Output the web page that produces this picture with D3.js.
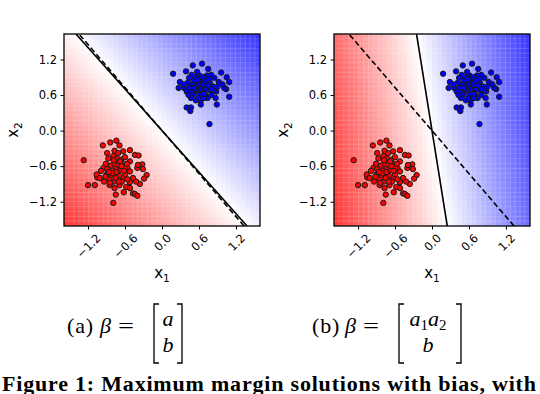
<!DOCTYPE html>
<html>
<head>
<meta charset="utf-8">
<script src="https://d3js.org/d3.v7.min.js"></script>
<style>
  body { margin: 0; background: #fff; }
  svg { display: block; }
  .tick text { font-family: "DejaVu Sans", sans-serif; font-size: 11.5px; fill: #000; }
  .axlabel { font-family: "DejaVu Sans", sans-serif; font-size: 15px; fill: #000; }
  .cap { font-family: "Liberation Serif", "Times New Roman", serif; font-size: 22px; fill: #000; }
</style>
</head>
<body>
<div id="chart"></div>
<script>
// class -1 (red) points, x1 and x2
var redX1 = [-1.27,-1.20,-1.09,-1.05,-1.06,-0.96,-0.84,-0.74,-0.69,-0.63,
             -0.52,-0.44,-0.38,-0.32,-0.25,-0.36,-0.47,-0.62,-0.75,-0.77,
             -0.78,-0.86,-0.90,-0.95,-0.91,-0.87,-0.79,-0.73,-0.66,-0.60,
             -0.52,-0.56,-0.52,-0.47,-0.42,-0.52,-0.63,-0.70,-0.68,-0.74,
             -0.80,-0.83,-0.77,-0.71,-0.63,-0.60,-0.85,-0.69,-0.58,-0.99,
             -1.01,-0.82,-0.75,-0.65,-0.89,-0.77,-0.89,-0.71,-0.40,-0.52,
             -0.31,-0.60,-0.57,-0.79,-0.44,-0.40,-0.29,-0.39,
             -0.80,-0.74,-0.86,-0.70,-0.66,-0.78,-0.92,-0.62,-0.84,-0.68,-0.94,-0.56];
var redX2 = [-0.50,-0.92,-0.92,-0.79,-0.74,-0.25,-0.20,-0.17,-0.25,-0.35,
             -0.33,-0.41,-0.42,-0.57,-0.75,-0.90,-1.06,-1.04,-1.08,-0.97,
             -0.86,-0.81,-0.74,-0.63,-0.56,-0.47,-0.43,-0.47,-0.49,-0.45,
             -0.52,-0.63,-0.69,-0.80,-0.86,-0.87,-0.80,-0.76,-0.67,-0.63,
             -0.68,-0.59,-0.56,-0.58,-0.57,-0.74,-0.92,-0.92,-0.95,-0.68,
             -0.80,-0.75,-0.80,-0.86,-0.65,-0.34,-0.38,-0.38,-0.63,-0.97,
             -0.65,-0.63,-0.56,-1.22,-1.07,-1.10,-0.81,-0.58,
             -0.72,-0.70,-0.70,-0.86,-0.60,-0.50,-0.78,-0.68,-0.88,-0.52,-0.86,-0.82];
// class +1 (blue) points
var blueX1 = [0.18,0.29,0.27,0.36,0.39,0.50,0.65,0.75,0.96,1.05,
              1.09,1.04,1.09,0.89,0.77,0.40,0.47,0.46,0.63,0.63,
              0.55,0.74,0.80,0.88,0.90,0.92,0.85,0.80,0.73,0.69,
              0.61,0.57,0.48,0.44,0.42,0.35,0.49,0.45,0.52,0.50,
              0.59,0.63,0.68,0.70,0.74,0.78,0.83,0.84,0.76,0.70,
              0.61,0.56,0.52,0.59,0.65,0.72,0.77,0.63,0.55,0.44,
              0.40,0.59,0.68,0.57,0.47,0.43,0.87,1.01,0.98,
              0.60,0.66,0.70,0.62,0.55,0.72,0.66,0.58,0.75,0.68,0.52,0.80];
var blueX2 = [0.96,0.82,0.72,0.72,1.00,1.10,1.13,1.04,0.98,0.90,
              0.82,0.70,0.57,0.44,0.11,0.39,0.39,0.33,0.44,0.51,
              0.51,0.55,0.60,0.66,0.74,0.82,0.89,0.94,0.93,0.89,
              0.93,0.99,0.94,0.89,0.81,0.78,0.77,0.66,0.64,0.60,
              0.69,0.71,0.66,0.75,0.82,0.80,0.74,0.68,0.69,0.60,
              0.60,0.78,0.85,0.83,0.82,0.87,0.87,0.89,0.90,0.72,
              0.66,0.55,0.55,0.73,0.55,0.60,0.55,0.72,0.78,
              0.80,0.78,0.84,0.70,0.70,0.70,0.90,0.86,0.76,0.62,0.72,0.70];

var tickValues = [-1.2, -0.6, 0.0, 0.6, 1.2];

// boundaries w1*x1 + w2*x2 + b = 0, stored as [w1, w2, b]
var solidA = [1.167, 1, 0];
var solidB = [6.5, 1, 0];
var dashedBoundary = [1.21, 1, 0];

var captionTags = ["(a)", "(b)"];

var width = 540, height = 394;
var margin = {left: 64, top: 34};
var plotW = 196, plotH = 192, panelGap = 270;
var nCells = 40;

var svg = d3.select("#chart").append("svg")
    .attr("width", width)
    .attr("height", height);

var x = d3.scaleLinear().domain([-1.59, 1.59]).range([0, plotW]);
var y = d3.scaleLinear().domain([-1.61, 1.63]).range([plotH, 0]);

var points = redX1.map(function (v, i) { return {x1: v, x2: redX2[i], c: "#ff0000"}; })
    .concat(blueX1.map(function (v, i) { return {x1: v, x2: blueX2[i], c: "#0000ff"}; }));

function shade(t) {
    return t < 0 ? d3.interpolateRgb("#ffffff", "#ff0000")(-t)
                 : d3.interpolateRgb("#ffffff", "#0000ff")(t);
}

function drawPanel(i, solid) {
    var g = svg.append("g")
        .attr("transform", "translate(" + (margin.left + i * panelGap) + "," + margin.top + ")");

    g.append("clipPath").attr("id", "clip" + i)
        .append("rect").attr("width", plotW).attr("height", plotH);

    var plot = g.append("g").attr("clip-path", "url(#clip" + i + ")");

    // decision function mesh
    var xd = x.domain(), yd = y.domain();
    var dx = (xd[1] - xd[0]) / nCells, dy = (yd[1] - yd[0]) / nCells;
    var cells = [];
    for (var r = 0; r < nCells; r++) {
        for (var c = 0; c < nCells; c++) {
            var cx = xd[0] + (c + 0.5) * dx, cy = yd[0] + (r + 0.5) * dy;
            cells.push({x0: xd[0] + c * dx, y1: yd[0] + (r + 1) * dy,
                        f: solid[0] * cx + solid[1] * cy + solid[2]});
        }
    }
    var maxAbs = d3.max(cells, function (d) { return Math.abs(d.f); });

    plot.selectAll(".cell")
        .data(cells)
        .enter().append("rect")
        .attr("class", "cell")
        .attr("x", function (d) { return x(d.x0); })
        .attr("y", function (d) { return y(d.y1); })
        .attr("width", x(xd[0] + dx) - x(xd[0]) + 0.4)
        .attr("height", y(yd[0]) - y(yd[0] + dy) + 0.4)
        .attr("fill", function (d) { return shade(d.f / maxAbs); })
        .attr("fill-opacity", 0.78);

    // faint mesh edges
    var edges = d3.range(nCells + 1);
    plot.selectAll(".vline").data(edges).enter().append("line")
        .attr("x1", function (k) { return x(xd[0] + k * dx); })
        .attr("x2", function (k) { return x(xd[0] + k * dx); })
        .attr("y1", 0).attr("y2", plotH)
        .attr("stroke", "#fff").attr("stroke-opacity", 0.22).attr("stroke-width", 0.9);
    plot.selectAll(".hline").data(edges).enter().append("line")
        .attr("y1", function (k) { return y(yd[0] + k * dy); })
        .attr("y2", function (k) { return y(yd[0] + k * dy); })
        .attr("x1", 0).attr("x2", plotW)
        .attr("stroke", "#fff").attr("stroke-opacity", 0.22).attr("stroke-width", 0.9);

    // boundaries
    function ends(w) {
        return yd.map(function (v) { return [x(-(w[1] * v + w[2]) / w[0]), y(v)]; });
    }
    plot.append("path")
        .attr("d", d3.line()(ends(solid)))
        .attr("stroke", "#000").attr("stroke-width", 1.6).attr("fill", "none");
    plot.append("path")
        .attr("d", d3.line()(ends(dashedBoundary)))
        .attr("stroke", "#000").attr("stroke-width", 1.6).attr("fill", "none")
        .attr("stroke-dasharray", "5.5,3");

    // data points
    plot.selectAll(".pt")
        .data(points)
        .enter().append("circle")
        .attr("class", "pt")
        .attr("cx", function (d) { return x(d.x1); })
        .attr("cy", function (d) { return y(d.x2); })
        .attr("r", 2.7)
        .attr("fill", function (d) { return d.c; })
        .attr("stroke", "#1a1a1a")
        .attr("stroke-width", 1);

    // frame
    g.append("rect")
        .attr("width", plotW).attr("height", plotH)
        .attr("fill", "none").attr("stroke", "#000").attr("stroke-width", 1.3);

    // axes
    var gx = g.append("g")
        .attr("transform", "translate(0," + plotH + ")")
        .call(d3.axisBottom(x).tickValues(tickValues).tickFormat(d3.format(".1f"))
              .tickSize(3.5).tickSizeOuter(0));
    var gy = g.append("g")
        .call(d3.axisLeft(y).tickValues(tickValues).tickFormat(d3.format(".1f"))
              .tickSize(3.5).tickPadding(3.5).tickSizeOuter(0));
    gx.select(".domain").remove();
    gy.select(".domain").remove();

    gx.selectAll(".tick text").each(function () {
        var w = this.getComputedTextLength();
        var h = 11.5 * 0.73;
        var ex = 0.707 * (w + h) / 2, ey = 7 + 0.707 * h;
        d3.select(this)
            .attr("x", ex).attr("y", ey).attr("dy", null)
            .attr("text-anchor", "end")
            .attr("transform", "rotate(-45," + ex + "," + ey + ")");
    });

    // axis labels
    var xl = g.append("text").attr("class", "axlabel")
        .attr("x", plotW / 2).attr("y", 244).attr("text-anchor", "middle");
    xl.append("tspan").text("x");
    xl.append("tspan").attr("dy", 4).attr("font-size", "10.5px").text("1");

    var yl = g.append("text").attr("class", "axlabel")
        .attr("transform", "translate(-46," + (plotH / 2) + ") rotate(-90)")
        .attr("text-anchor", "middle");
    yl.append("tspan").text("x");
    yl.append("tspan").attr("dy", 4).attr("font-size", "10.5px").text("2");
}

drawPanel(0, solidA);
drawPanel(1, solidB);

// captions
function bracket(x0, dir) {
    var top = 304, bot = 363, s = 5 * dir;
    svg.append("path")
        .attr("d", "M" + (x0 + s) + "," + top + "H" + x0 + "V" + bot + "H" + (x0 + s))
        .attr("stroke", "#000").attr("stroke-width", 1.3).attr("fill", "none");
}

function capLead(tag, x0, xBeta, xEq) {
    svg.append("text").attr("class", "cap")
        .attr("x", x0).attr("y", 333).attr("letter-spacing", "0.8px").text(tag);
    svg.append("text").attr("class", "cap").attr("font-style", "italic")
        .attr("x", xBeta).attr("y", 333).text("β");
    svg.append("text").attr("class", "cap")
        .attr("x", xEq).attr("y", 333)
        .attr("textLength", 16).attr("lengthAdjust", "spacingAndGlyphs").text("=");
}

capLead(captionTags[0], 67, 100, 118);
bracket(154, 1);
bracket(182, -1);
svg.append("text").attr("class", "cap").attr("font-style", "italic")
    .attr("x", 168).attr("y", 326).attr("text-anchor", "middle").text("a");
svg.append("text").attr("class", "cap").attr("font-style", "italic")
    .attr("x", 168).attr("y", 352).attr("text-anchor", "middle").text("b");

capLead(captionTags[1], 312, 345, 363);
bracket(399, 1);
bracket(461, -1);
var ab = svg.append("text").attr("class", "cap").attr("font-style", "italic")
    .attr("x", 428).attr("y", 326).attr("text-anchor", "middle");
ab.append("tspan").text("a");
ab.append("tspan").attr("font-style", "normal").attr("font-size", "15px").attr("dy", 4).text("1");
ab.append("tspan").attr("dy", -4).text("a");
ab.append("tspan").attr("font-style", "normal").attr("font-size", "15px").attr("dy", 4).text("2");
svg.append("text").attr("class", "cap").attr("font-style", "italic")
    .attr("x", 428).attr("y", 352).attr("text-anchor", "middle").text("b");

// figure caption along the bottom edge
svg.append("text").attr("class", "cap")
    .attr("x", 2).attr("y", 390.5).attr("font-weight", "bold")
    .attr("font-size", "12px")
    .attr("textLength", 534)
    .text("Figure 1: Maximum margin solutions with bias, with");
</script>
</body>
</html>
